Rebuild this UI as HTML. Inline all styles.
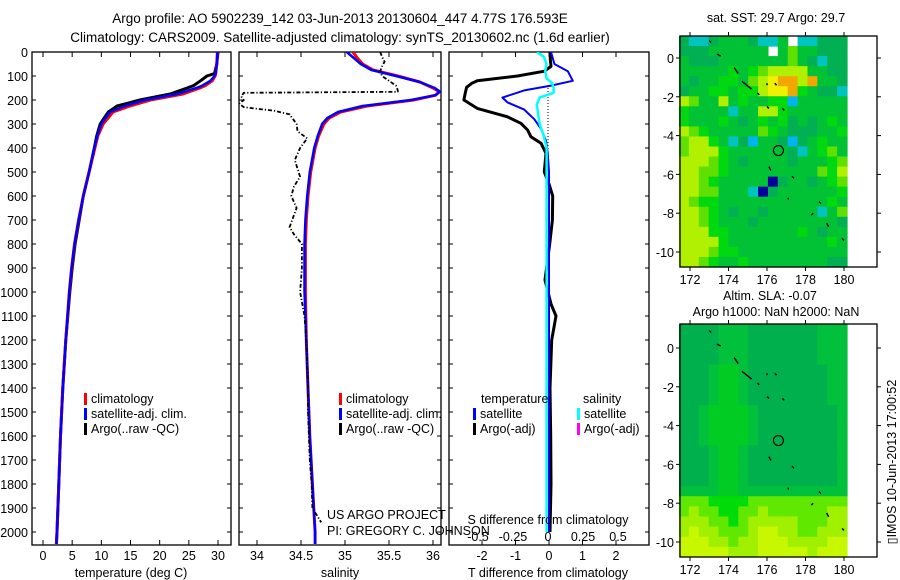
<!DOCTYPE html>
<html><head><meta charset="utf-8"><style>
html,body{margin:0;padding:0;background:#fff}
svg{display:block;font-family:"Liberation Sans",sans-serif}
text{font-size:12.5px;fill:#000}
</style></head><body>
<svg id="fig" width="900" height="580" viewBox="0 0 900 580">
<defs>
<clipPath id="c1"><rect x="32" y="52" width="199" height="493"/></clipPath>
<clipPath id="c2"><rect x="239" y="52" width="202" height="493"/></clipPath>
<clipPath id="c3"><rect x="449" y="52" width="200" height="493"/></clipPath>
</defs>
<text x="340" y="23" text-anchor="middle" style="font-size:13.5px">Argo profile: AO 5902239_142 03-Jun-2013 20130604_447 4.77S 176.593E</text>
<text x="340" y="42" text-anchor="middle" style="font-size:13.5px">Climatology: CARS2009. Satellite-adjusted climatology: synTS_20130602.nc (1.6d earlier)</text>
<g id="p1"></g>
<g id="p2"></g>
<g id="p3"></g>
<g id="m1"></g>
<g id="m2"></g>
<text x="776" y="22" text-anchor="middle">sat. SST: 29.7 Argo: 29.7</text>
<text x="770" y="300" text-anchor="middle">Altim. SLA: -0.07</text>
<text x="776" y="316" text-anchor="middle">Argo h1000: NaN h2000: NaN</text>
<text transform="translate(896,462) rotate(-90)" text-anchor="middle">▯IMOS 10-Jun-2013 17:00:52</text>
</svg>
<script>
// ---- profile data ----
const depthTicks = [0,100,200,300,400,500,600,700,800,900,1000,1100,1200,1300,1400,1500,1600,1700,1800,1900,2000];
const tempTicks = [0,5,10,15,20,25,30];
const salTicks = [34,34.5,35,35.5,36];
const tdTicks = [-2,-1,0,1,2];
const sdTicks = [-0.5,-0.25,0,0.25,0.5];
const sdTickLabels = ["-0.5","-0.25","0","0.25","0.5"];

const tDepth = [0,50,90,100,120,140,150,175,200,225,250,300,350,400,500,600,700,800,900,1000,1200,1400,1600,1800,2000,2050];
const tempClim = [29.9,29.8,29.6,29.5,29.0,27.8,26.9,24.0,18.4,14.9,12.0,10.3,9.4,8.9,7.9,6.9,6.1,5.4,4.9,4.5,3.9,3.4,3.0,2.7,2.4,2.3];
const tempSat  = [29.9,29.8,29.6,29.4,28.7,27.3,26.3,23.0,17.5,14.0,11.5,10.0,9.3,8.8,7.9,6.9,6.1,5.4,4.9,4.5,3.9,3.4,3.0,2.7,2.4,2.3];
const tempArgo = [30.0,29.8,29.4,28.1,27.0,25.8,24.7,21.8,16.6,12.7,11.2,9.8,9.2,8.8,7.9,6.9,6.2,5.5,5.0,4.6,3.9,3.4,3.0,2.7,2.4,2.3];

const sDepth = [0,25,50,75,100,125,150,165,180,200,225,250,275,300,350,400,500,600,700,800,1000,1200,1400,1600,1800,2000,2050];
const salClim = [35.09,35.14,35.2,35.32,35.6,35.85,36.0,36.07,36.03,35.78,35.25,34.95,34.82,34.76,34.7,34.66,34.61,34.58,34.56,34.55,34.55,34.56,34.58,34.6,34.63,34.66,34.66];
const salSat  = [35.02,35.1,35.18,35.3,35.58,35.85,36.02,36.08,36.03,35.75,35.2,34.92,34.8,34.74,34.69,34.65,34.6,34.57,34.55,34.54,34.54,34.56,34.58,34.6,34.63,34.66,34.66];
const saDepth = [0,20,40,60,80,100,120,140,160,166,170,185,200,215,230,245,260,280,300,330,360,400,450,520,560,600,650,700,730,760,800,900,1000,1100,1200,1300,1400,1500,1600,1700,1800,1900,1930,1960];
const salArgo = [35.4,35.42,35.45,35.42,35.4,35.42,35.5,35.58,35.6,35.6,33.85,33.82,33.85,33.8,33.85,34.2,34.37,34.41,34.45,34.46,34.57,34.49,34.43,34.49,34.42,34.39,34.45,34.4,34.37,34.42,34.51,34.51,34.49,34.54,34.56,34.57,34.58,34.58,34.59,34.6,34.62,34.63,34.68,34.73];

const tdDepth = [0,30,60,80,100,120,130,147,170,200,235,270,297,325,353,380,422,500,550,600,700,800,950,1050,1100,1200,1400,1600,1800,2000];
const tdArgo = [0.04,0.04,0.06,-0.14,-0.94,-2.14,-2.3,-2.46,-2.5,-2.54,-2.14,-1.24,-0.84,-0.64,-0.54,-0.24,-0.09,-0.14,0,0.11,0.1,0.02,-0.12,0.06,0.21,0.08,0.03,0.05,0.06,0.03];
const tsDepth = [0,50,80,120,140,160,190,210,240,280,320,370,420,500,1000,2000];
const tdSat = [0.06,0.16,0.56,0.71,0.06,-0.74,-1.39,-1.24,-0.74,-0.44,-0.24,-0.09,-0.04,0,0,0];
const ssDepth = [0,20,50,80,110,130,150,170,190,220,260,300,350,400,500,1000,2000];
const sdSat = [-0.08,-0.03,-0.01,-0.02,-0.01,0.03,0.04,0.04,-0.06,-0.08,-0.07,-0.06,-0.03,-0.01,-0.01,-0.01,-0.01];

// ---- map data (coarse cells, codes into palette) ----
const sstRows = [
"32234443224X22333","333444444X4644333","43334444444643233","44444545677774433","43445546789979443",
"34455455788954332","76447454455144444","54444244775444444","54445434545343454","76544444654333445",
"67754231443134544","67775444444324564","77765434444344456","77665444444444657","77654444403443456",
"77664442034444445","76554444444444454","77654344344444246","77654443444444443","77755444444454344",
"77775444444444454","77765544444444444","77654454444444433"];
const sstPalette = ["#0000a0","#00b4f0","#00c4c0","#00b052","#00c234","#00d810","#60e000","#b0f000","#f0f000","#f0a800"];
const slaRows = [
"00001110000000111","00001110000000111","00001110000000111","00001110000000111",
"00012210000000011","00012210000000011","00012210000000011","00012210000000011",
"00122221000000001","00122221000000001","00122221000000001","00122221000000001",
"00012210000000001","00012210000000001","00012210000000001","00012210000000001",
"11112211111111111","44433334444444444","45443344544444455","55544345555544455",
"56554445665544555","66655455666555566","66666555666665666"];
const slaPalette = ["#00b04c","#00c03c","#00cc24","#00dc08","#60e800","#a0f000","#c8f800"];
const argoLon = 176.593, argoLat = -4.77;
const lonTicks = [172,174,176,178,180];
const latTicks = [0,-2,-4,-6,-8,-10];

const NS="http://www.w3.org/2000/svg";
function mk(tag, attrs, parent){const e=document.createElementNS(NS,tag);for(const k in attrs)e.setAttribute(k,attrs[k]);parent.appendChild(e);return e;}
function txt(s,x,y,anchor,parent){const e=mk('text',{x:x,y:y,'text-anchor':anchor||'start'},parent);e.textContent=s;return e;}

const Y0=52, Y1=545;
const yD = d => 52 + d*0.2400;
function xLin(v0,p0,v1,p1){return v=>p0+(v-v0)*(p1-p0)/(v1-v0);}
const xT = xLin(0,43,30,218);
const xS = xLin(34,257,36,433);
const xTD = xLin(0,549,1,582.5);
const xSD = xLin(0,548,1,688);

function frame(g,x0,x1,name){
  const r=mk('rect',{x:x0,y:Y0,width:x1-x0,height:Y1-Y0,fill:'none',stroke:'#000','stroke-width':1.3},g);
  
  
  depthTicks.forEach(d=>{mk('line',{x1:x0,x2:x0+4,y1:yD(d),y2:yD(d),stroke:'#000'},g);mk('line',{x1:x1,x2:x1-4,y1:yD(d),y2:yD(d),stroke:'#000'},g);});
}
function xticks(g,ticks,fx,labels,name){
  ticks.forEach((t,i)=>{
    mk('line',{x1:fx(t),x2:fx(t),y1:Y1,y2:Y1-5,stroke:'#000'},g);
    mk('line',{x1:fx(t),x2:fx(t),y1:Y0,y2:Y0+5,stroke:'#000'},g);
    const e=txt(labels?labels[i]:String(t),fx(t),560,'middle',g);
    
    
  });
}
function line(g,xs,ds,fx,color,w,name,dash,clip){
  const pts=xs.map((v,i)=>fx(v).toFixed(1)+','+yD(ds[i]).toFixed(1)).join(' ');
  const p=mk('polyline',{points:pts,fill:'none',stroke:color,'stroke-width':w,'stroke-linejoin':'round','clip-path':'url(#'+clip+')'},g);
  if(dash)p.setAttribute('stroke-dasharray',dash);
  
  
}
function legend(g,x,y,color,label,name){
  mk('rect',{x:x,y:y-10,width:3,height:12,fill:color},g);
  const e=txt(label,x+7,y,'start',g);
  
  
}

// panel 1
const p1=document.getElementById('p1');
frame(p1,32,231,'temperature-frame');
depthTicks.forEach(d=>{const e=txt(String(d),28,yD(d)+5,'end',p1);

});
xticks(p1,tempTicks,xT,null,'temperature');
line(p1,tempArgo,tDepth,xT,'#000',3,'temperature-argo-line',null,'c1');
line(p1,tempClim,tDepth,xT,'#f00',3,'temperature-climatology-line',null,'c1');
line(p1,tempSat,tDepth,xT,'#00f',2.5,'temperature-satellite-line',null,'c1');
legend(p1,84,403,'#f00','climatology','legend-climatology');
legend(p1,84,418,'#00f','satellite-adj. clim.','legend-satellite');
legend(p1,84,433,'#000','Argo(..raw -QC)','legend-argo');
{const e=txt('temperature (deg C)',131,577,'middle',p1);}

// panel 2
const p2=document.getElementById('p2');
frame(p2,239,441,'salinity-frame');
xticks(p2,salTicks,xS,null,'salinity');
line(p2,salClim,sDepth,xS,'#f00',3,'salinity-climatology-line',null,'c2');
line(p2,salSat,sDepth,xS,'#00f',2.5,'salinity-satellite-line',null,'c2');
line(p2,salArgo,saDepth,xS,'#000',1.8,'salinity-argo-line','4 2 1.2 2','c2');
legend(p2,339,403,'#f00','climatology','legend-climatology');
legend(p2,339,418,'#00f','satellite-adj. clim.','legend-satellite');
legend(p2,339,433,'#000','Argo(..raw -QC)','legend-argo');
{let e=txt('US ARGO PROJECT',327,519,'start',p2);
e=txt('PI: GREGORY C. JOHNSON',327,535,'start',p2);
e=txt('salinity',340,577,'middle',p2);}

// panel 3
const p3=document.getElementById('p3');
frame(p3,449,649,'difference-frame');
xticks(p3,tdTicks,xTD,null,'t-difference');
sdTicks.forEach((t,i)=>{const e=txt(sdTickLabels[i],xSD(t),541,'middle',p3);

});
{const d=mk('line',{x1:548,x2:548,y1:yD(150),y2:yD(500),stroke:'#000','stroke-dasharray':'1 2'},p3);

}
line(p3,tdArgo,tdDepth,xTD,'#000',3,'t-diff-argo-line',null,'c3');
line(p3,tdSat,tsDepth,xTD,'#00f',2,'t-diff-satellite-line',null,'c3');
line(p3,sdSat,ssDepth,xSD,'#0ff',2.5,'s-diff-satellite-line',null,'c3');
{let e=txt('temperature',481,403,'start',p3);
e=txt('salinity',583,403,'start',p3);}
legend(p3,473,418,'#00f','satellite','legend-t-satellite');
legend(p3,473,433,'#000','Argo(-adj)','legend-t-argo');
legend(p3,577,418,'#0ff','satellite','legend-s-satellite');
legend(p3,577,433,'#f0f','Argo(-adj)','legend-s-argo');
{let e=txt('S difference from climatology',548,524,'middle',p3);
e=txt('T difference from climatology',548,577,'middle',p3);}

// maps
function drawMap(g,rows,palette,top,bottom,lat0y,lat10y,name){
  const fx=xLin(172,690,180,844), fy=xLin(0,lat0y,-10,lat10y);
  const L=680, R=877, ix0=679, ix1=847;
  const nr=rows.length, nc=rows[0].length;
  const cw=(ix1-ix0)/nc, ch=(bottom-top)/nr;
  mk('rect',{x:L,y:top,width:R-L,height:bottom-top,fill:'#fff'},g);
  rows.forEach((row,r)=>{for(let c=0;c<nc;c++){const ch_=row[c];if(ch_==='X')continue;
    const cell=mk('rect',{x:(ix0+c*cw).toFixed(2),y:(top+r*ch).toFixed(2),width:(cw+0.6).toFixed(2),height:(ch+0.6).toFixed(2),fill:palette[+ch_]},g);
    
    
  }});
  const isl=[[173,0.9,173.1,0.8],[173.4,0.2,173.6,0.1],[174.3,-0.5,174.5,-0.8],[174.7,-1.2,175.2,-1.6],[175.5,-1.8,175.6,-1.9],[176,-1.3,176,-1.4],[176.4,-1.3,176.5,-1.4],[176,-2.5,176.1,-2.6],[176.8,-2.6,176.9,-2.7],[176.1,-5.6,176.2,-5.8],[177.3,-6.1,177.4,-6.2],[177.1,-7.2,177.1,-7.3],[178.7,-7.4,178.8,-7.5],[178.4,-8,178.3,-8.1],[179.1,-8.5,179.2,-8.7],[179.9,-9.3,180,-9.4]];
  isl.forEach(a=>mk('line',{x1:fx(a[0]),y1:fy(a[1]),x2:fx(a[2]),y2:fy(a[3]),stroke:'#000','stroke-width':1.5},g));
  const circ=mk('circle',{cx:fx(argoLon),cy:fy(argoLat),r:5,fill:'none',stroke:'#000','stroke-width':1.2},g);
  
  
  const fr=mk('rect',{x:L,y:top,width:R-L,height:bottom-top,fill:'none',stroke:'#000','stroke-width':1.3},g);
  
  
  lonTicks.forEach(t=>{mk('line',{x1:fx(t),x2:fx(t),y1:top,y2:top-4,stroke:'#000'},g);
    mk('line',{x1:fx(t),x2:fx(t),y1:bottom,y2:bottom+4,stroke:'#000'},g);
    const e=txt(String(t),fx(t),bottom+17,'middle',g);
    
    });
  latTicks.forEach(t=>{mk('line',{x1:L,x2:L-4,y1:fy(t),y2:fy(t),stroke:'#000'},g);
    mk('line',{x1:R,x2:R+4,y1:fy(t),y2:fy(t),stroke:'#000'},g);
    const e=txt(String(t),L-6,fy(t)+5,'end',g);
    
    });
}
drawMap(document.getElementById('m1'),sstRows,sstPalette,36,267,58,252,'sst-map');
drawMap(document.getElementById('m2'),slaRows,slaPalette,324,557,348,542,'sla-map');
</script>
</body></html>
